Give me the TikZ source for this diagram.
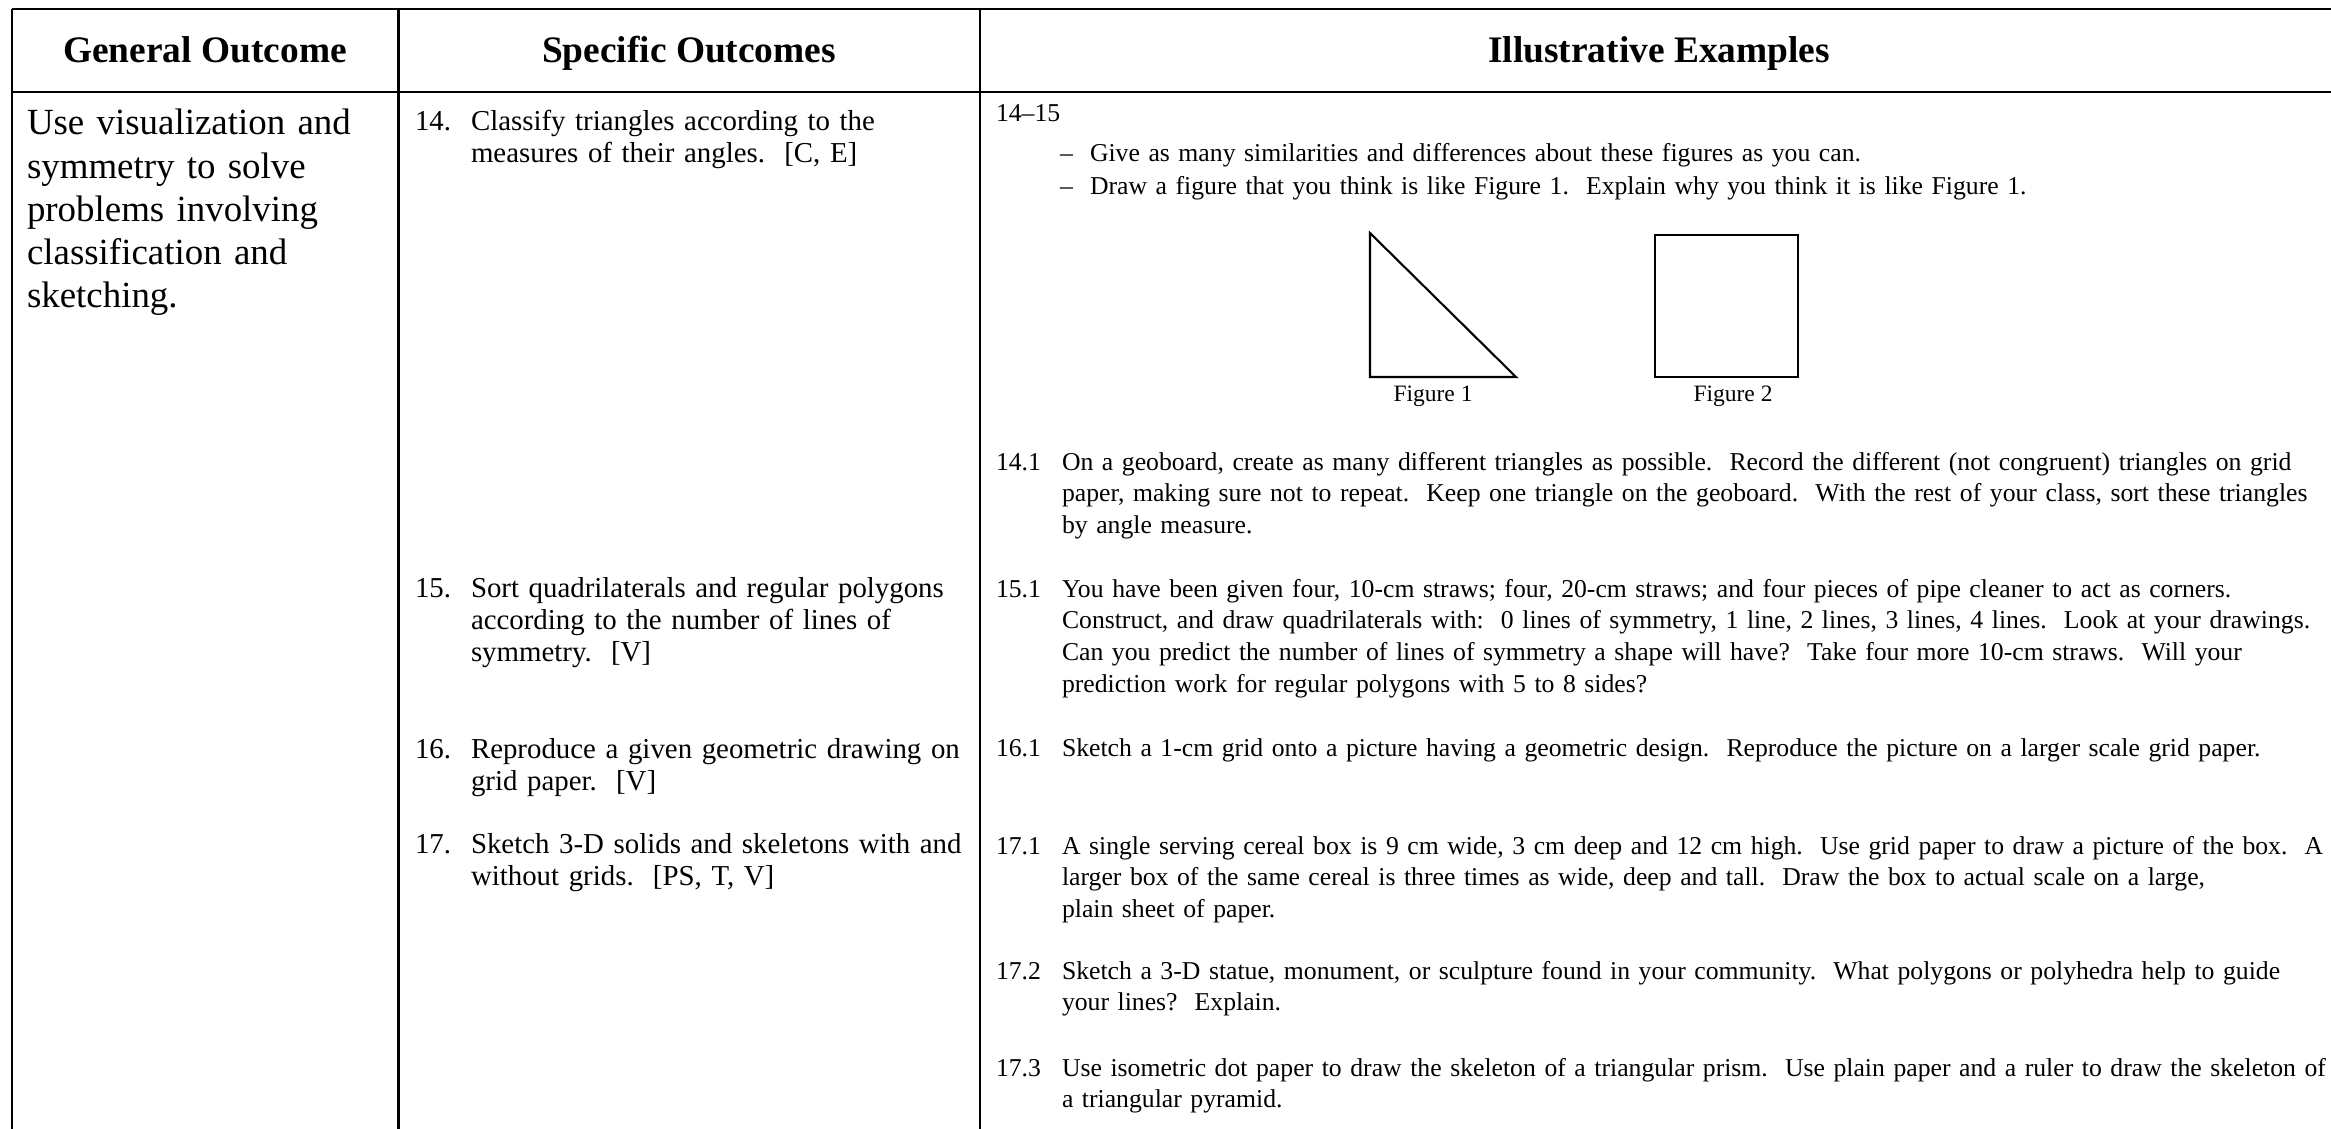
\documentclass[tikz,border=0pt]{standalone}
\usepackage{fontspec}
\setmainfont{Liberation Serif}

\begin{document}
\begin{tikzpicture}
  [x=0.5pt,y=-0.5pt,
   every node/.style={inner sep=0pt,outer sep=0pt},
   rule/.style={line width=1.35pt},
   figline/.style={line width=1.05pt,line join=miter},
   headN/.style={anchor=base,font=\fontsize{18.7}{22.1}\selectfont\bfseries},
   goalN/.style={anchor=base west,align=left,text width=200pt,font=\fontsize{18.45}{21.6}\selectfont},
   specN/.style={anchor=base west,align=left,text width=260pt,font=\fontsize{14.43}{16}\selectfont},
   exN/.style={anchor=base west,align=left,text width=650pt,font=\fontsize{12.85}{15.9}\selectfont},
   figN/.style={anchor=base,font=\fontsize{11.75}{14}\selectfont}]

  \useasboundingbox (0,0) rectangle (2331,1129);

  \draw [rule] (12,9) -- (2331,9);
  \draw [rule] (12,92) -- (2331,92);
  \draw [rule] (12,9) -- (12,1129);
  \draw [rule] (398.5,9) -- (398.5,1129);
  \draw [rule] (980,9) -- (980,1129);

  \node[headN] (hgen) at (205,63) {General Outcome};
  \node[headN] (hspec) at (689,63) {Specific Outcomes};
  \node[headN] (hex) at (1659,63) {Illustrative Examples};

  \node[goalN] (goal) at (27,135)
    {Use visualization and\\symmetry to solve\\problems involving\\classification and\\sketching.};

  \node[specN,text width=20pt] (n14) at (415,131) {14.};
  \node[specN,text width=20pt] (n15) at (415,597) {15.};
  \node[specN,text width=20pt] (n16) at (415,758) {16.};
  \node[specN,text width=20pt] (n17) at (415,853) {17.};
  \node[specN] (s14) at (471,131) {Classify triangles according to the\\measures of their angles.\ \ [C, E]};
  \node[specN] (s15) at (471,597) {Sort quadrilaterals and regular polygons\\according to the number of lines of\\symmetry.\ \ [V]};
  \node[specN] (s16) at (471,758) {Reproduce a given geometric drawing on\\grid paper.\ \ [V]};
  \node[specN] (s17) at (471,853) {Sketch 3-D solids and skeletons with and\\without grids.\ \ [PS, T, V]};

  \node[exN,text width=40pt] (e1415) at (996,122) {14--15};
  \node[exN,text width=10pt] (d1) at (1060,162) {--};
  \node[exN] (give) at (1090,162) {Give as many similarities and differences about these figures as you can.};
  \node[exN,text width=10pt] (d2) at (1060,195) {--};
  \node[exN] (draw) at (1090,195) {Draw a figure that you think is like Figure 1.\ \ Explain why you think it is like Figure 1.};

  \draw [figline] (1370,233) -- (1370,377) -- (1516,377) -- cycle;
  \draw [figline] (1655,235) rectangle (1798,377);
  \node[figN] (f1) at (1433,401) {Figure 1};
  \node[figN] (f2) at (1733,401) {Figure 2};

  \node[exN,text width=40pt] (n141) at (996,470) {14.1};
  \node[exN] (e141) at (1062,470) {On a geoboard, create as many different triangles as possible.\ \ Record the different (not congruent) triangles on grid\\paper, making sure not to repeat.\ \ Keep one triangle on the geoboard.\ \ With the rest of your class, sort these triangles\\by angle measure.};
  \node[exN,text width=40pt] (n151) at (996,597) {15.1};
  \node[exN] (e151) at (1062,597) {You have been given four, 10-cm straws; four, 20-cm straws; and four pieces of pipe cleaner to act as corners.\\Construct, and draw quadrilaterals with:\ \ 0 lines of symmetry, 1 line, 2 lines, 3 lines, 4 lines.\ \ Look at your drawings.\\Can you predict the number of lines of symmetry a shape will have?\ \ Take four more 10-cm straws.\ \ Will your\\prediction work for regular polygons with 5 to 8 sides?};
  \node[exN,text width=40pt] (n161) at (996,756) {16.1};
  \node[exN] (e161) at (1062,756) {Sketch a 1-cm grid onto a picture having a geometric design.\ \ Reproduce the picture on a larger scale grid paper.};
  \node[exN,text width=40pt] (n171) at (996,854) {17.1};
  \node[exN] (e171) at (1062,854) {A single serving cereal box is 9 cm wide, 3 cm deep and 12 cm high.\ \ Use grid paper to draw a picture of the box.\ \ A\\larger box of the same cereal is three times as wide, deep and tall.\ \ Draw the box to actual scale on a large,\\plain sheet of paper.};
  \node[exN,text width=40pt] (n172) at (996,979) {17.2};
  \node[exN] (e172) at (1062,979) {Sketch a 3-D statue, monument, or sculpture found in your community.\ \ What polygons or polyhedra help to guide\\your lines?\ \ Explain.};
  \node[exN,text width=40pt] (n173) at (996,1076) {17.3};
  \node[exN] (e173) at (1062,1076) {Use isometric dot paper to draw the skeleton of a triangular prism.\ \ Use plain paper and a ruler to draw the skeleton of\\a triangular pyramid.};

\end{tikzpicture}
\end{document}
